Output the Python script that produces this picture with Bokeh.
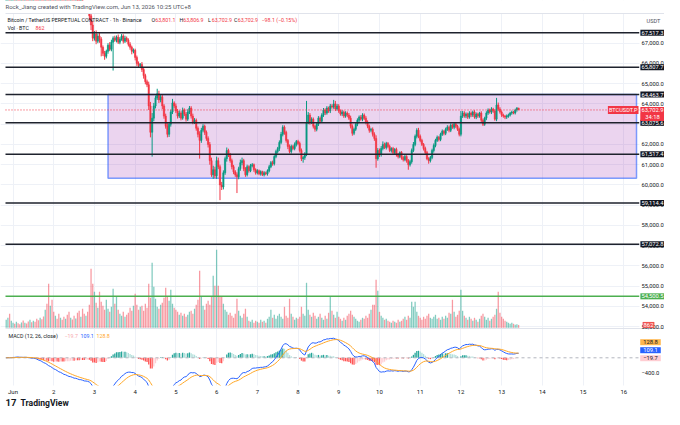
import numpy as np
import pandas as pd
from bokeh.plotting import figure
from bokeh.models import Range1d, FixedTicker, Grid, Label, ColumnDataSource
from bokeh.core.properties import value
from bokeh.embed import file_html
from bokeh.resources import INLINE

# ---------------- data (hourly candles, May 31 20:00 .. Jun 13 10:00, UTC+8) ----------------
first_open = 71900
closes = [
    71950, 72010, 71920, 71980,
    72050, 71990, 72080, 72020, 71940, 72000, 71960, 72030, 71980, 71900, 71950, 71870,
    71920, 71840, 71700, 71560, 71620, 71430, 71280, 71350, 71120, 70950, 71010, 70800,
    70620, 70700, 70480, 70300, 70380, 70150, 69980, 70050, 69820, 69700, 69760, 69520,
    69380, 69450, 69200, 69050, 69120, 68880, 68700, 68760, 68600, 68350, 67900, 67250,
    67450, 67100, 67350, 67200, 66800, 66500, 66350, 66600, 66900, 66700, 67050, 67250,
    67150, 67300, 67050, 67200, 67350, 67100, 67250, 67150, 66950, 66800, 66600, 66650,
    66300, 66000, 65900, 65950, 65700, 65400, 65100, 64950, 63900, 62600, 63300, 63900,
    64300, 64500, 64200, 64350, 63900, 63400, 62900, 62500, 63000, 63600, 64050, 63900,
    63650, 63400, 63550, 63300, 63700, 63500, 63250, 63600, 63800, 63400, 63100, 63200,
    62800, 62500, 62200, 62700, 62900, 62600, 62300, 62000, 61200, 60500, 60750, 60450,
    61200, 60900, 60000, 59900, 60600, 61300, 61700, 61500, 61200, 60900, 60650, 60500,
    60400, 60800, 61100, 61200, 60800, 60500, 60900, 60700, 60950, 61000, 60750, 60600,
    60700, 60550, 60650, 60500, 60600, 60550, 60700, 60900, 61100, 61050, 61400, 61650,
    61800, 62100, 62500, 62850, 62600, 62200, 61900, 61650, 61900, 61800, 62000, 62150,
    62050, 61700, 61300, 61350, 61500, 63100, 63450, 63100, 63250, 62900, 62750, 63000,
    63300, 63150, 63450, 63700, 63550, 63800, 63650, 63900, 63850, 64000, 63750, 63900,
    63650, 63500, 63600, 63400, 63550, 63450, 63300, 62900, 62550, 62750, 63000, 63200,
    63350, 63250, 63450, 63300, 63100, 62900, 62700, 62750, 62500, 62300, 61300, 61700,
    61500, 61800, 62000, 61850, 62050, 61900, 61700, 61800, 61600, 61750, 61500, 61400,
    61600, 61350, 61250, 61400, 61200, 61000, 61150, 61700, 62000, 62400, 62700, 62400,
    62200, 62000, 61800, 61600, 61300, 61200, 61350, 61700, 61950, 62200, 62350, 62250,
    62500, 62650, 62550, 62750, 62850, 62700, 62950, 62850, 63000, 62900, 62750, 62500,
    63400, 63550, 63400, 63500, 63350, 63550, 63450, 63600, 63350, 63500, 63400, 63550,
    63200, 63000, 63300, 63550, 63700, 63600, 63750, 63650, 63250, 63950, 63750, 63600,
    63450, 63400, 63350, 63400, 63450, 63550, 63600, 63550, 63700, 63801.1, 63702.9,
]
upper_wicks = [
    60, 80, 50, 70,
    60, 40, 70, 50, 80, 60, 50, 70, 40, 60, 80, 50, 60, 70, 90, 60, 120, 80, 100, 70, 150, 90, 110, 80,
    90, 120, 80, 100, 70, 110, 90, 80, 120, 70, 100, 80, 90, 110, 70, 100, 80, 120, 90, 110, 150, 350, 120, 200,
    150, 180, 120, 150, 100, 90, 120, 80, 100, 150, 120, 90, 120, 80, 130, 100, 100, 90, 120, 80, 90, 100, 80, 90,
    80, 90, 100, 70, 120, 80, 90, 100, 150, 200, 250, 150, 120, 250, 150, 120, 100, 90, 120, 150, 100, 120, 200, 80,
    120, 100, 130, 90, 120, 80, 100, 140, 100, 90, 120, 100, 80, 90, 150, 120, 100, 80, 90, 100, 120, 150, 200, 150,
    200, 150, 100, 150, 120, 100, 150, 90, 80, 100, 90, 80, 120, 100, 150, 150, 90, 80, 100, 70, 90, 80, 60, 70,
    80, 60, 70, 50, 80, 60, 70, 90, 80, 100, 70, 90, 80, 100, 120, 100, 90, 80, 70, 100, 90, 80, 100, 70,
    80, 90, 100, 80, 120, 1050, 150, 100, 90, 80, 70, 90, 100, 80, 90, 100, 80, 90, 70, 100, 90, 200, 150, 100,
    90, 80, 100, 70, 90, 80, 100, 120, 90, 80, 70, 90, 80, 100, 90, 80, 100, 90, 80, 70, 90, 100, 150, 120,
    100, 120, 150, 90, 80, 70, 90, 60, 80, 70, 90, 80, 60, 70, 80, 90, 70, 80, 90, 100, 120, 90, 100, 120,
    90, 80, 70, 90, 80, 70, 80, 90, 100, 80, 90, 70, 80, 90, 70, 80, 100, 80, 90, 70, 80, 90, 70, 80,
    250, 100, 90, 80, 70, 90, 80, 70, 90, 80, 70, 60, 90, 80, 70, 90, 80, 70, 90, 60, 80, 350, 120, 90,
    80, 70, 60, 80, 70, 60, 70, 50, 60, 40, 5.8,
]
lower_wicks = [
    70, 50, 80, 60,
    50, 70, 40, 60, 80, 50, 70, 40, 60, 80, 50, 70, 60, 90, 50, 80, 70, 100, 120, 90, 110, 150, 100, 130,
    110, 90, 120, 100, 130, 90, 110, 120, 100, 130, 90, 110, 120, 100, 130, 90, 110, 100, 120, 100, 150, 200, 250, 150,
    120, 150, 100, 180, 450, 130, 170, 100, 120, 90, 100, 1400, 80, 110, 90, 100, 80, 120, 90, 100, 110, 120, 150, 100,
    150, 120, 100, 130, 120, 150, 130, 120, 200, 250, 1200, 150, 120, 100, 150, 120, 150, 130, 120, 150, 130, 120, 100, 120,
    100, 120, 90, 110, 80, 100, 120, 90, 100, 120, 100, 90, 120, 150, 900, 120, 100, 130, 120, 150, 200, 100, 200, 120,
    150, 120, 750, 150, 120, 100, 150, 120, 100, 130, 120, 100, 800, 120, 100, 130, 120, 100, 80, 90, 70, 80, 100, 90,
    80, 70, 90, 60, 80, 70, 90, 80, 70, 100, 90, 80, 100, 120, 90, 100, 120, 110, 130, 90, 100, 80, 90, 100,
    90, 100, 120, 200, 110, 80, 100, 120, 90, 110, 120, 100, 90, 100, 80, 90, 100, 80, 90, 100, 80, 90, 100, 80,
    90, 80, 100, 90, 80, 100, 90, 110, 120, 90, 80, 100, 90, 80, 100, 90, 110, 100, 120, 100, 110, 120, 450, 100,
    120, 100, 90, 80, 100, 90, 80, 100, 90, 80, 100, 90, 80, 100, 90, 80, 100, 250, 90, 100, 80, 90, 100, 90,
    90, 80, 100, 90, 80, 150, 90, 80, 100, 90, 80, 100, 90, 80, 100, 90, 80, 100, 90, 80, 100, 90, 80, 100,
    100, 90, 80, 100, 90, 80, 100, 90, 80, 100, 90, 80, 100, 90, 80, 100, 90, 80, 100, 90, 80, 100, 90, 80,
    90, 80, 100, 90, 80, 70, 80, 60, 70, 80, 0,
]
volumes = [
    2400, 3000, 4200, 2100,
    1500, 1200, 1800, 1400, 1100, 1600, 2200, 1500, 1300, 1900, 2400, 1700, 2100, 1800, 2700, 2300, 3000, 2600, 3400, 5400, 7200, 13200, 6600, 8400,
    4800, 3600, 2700, 4200, 3000, 2400, 3300, 2700, 3900, 4800, 3000, 2500, 3600, 2800, 4500, 5100, 3300, 5700, 4200, 3600, 4800, 6900, 17700, 13200,
    10800, 7500, 6000, 10800, 7800, 6600, 5400, 8400, 5700, 4800, 6300, 11700, 7200, 9300, 5400, 4200, 3600, 4800, 3300, 3900, 4500, 6000, 5100, 6600,
    10200, 6900, 5400, 6300, 6600, 5100, 7200, 6000, 13200, 9000, 19500, 12300, 8700, 6300, 5700, 6900, 7500, 9000, 12000, 9300, 8100, 11400, 7200, 6000,
    5400, 4800, 3900, 4500, 3600, 4200, 3300, 3900, 4800, 5100, 4200, 5700, 6900, 8400, 17100, 9300, 6600, 5400, 7200, 8100, 6900, 9300, 15600, 12600,
    23400, 12600, 9300, 9300, 7200, 5400, 4800, 3900, 4500, 3600, 3000, 4200, 8700, 5100, 3600, 3000, 4200, 5700, 3300, 2100, 1800, 2400, 1500, 2100,
    1800, 1500, 2400, 1800, 2100, 1500, 2700, 3300, 5400, 3000, 3900, 2700, 3600, 4200, 3300, 2700, 6300, 3600, 3000, 8700, 4200, 3300, 2400, 3000,
    2700, 3300, 6300, 4200, 3600, 13500, 5400, 3900, 3300, 4500, 3600, 2700, 3300, 4200, 3000, 2400, 3600, 2700, 4500, 9300, 5100, 3900, 3000, 4800,
    3300, 2700, 2100, 3000, 2400, 3600, 4200, 5100, 3900, 3300, 2700, 2100, 1800, 2400, 3000, 2700, 3600, 3000, 4200, 5400, 6900, 6900, 14400, 11100,
    4800, 3600, 3000, 2400, 2700, 2100, 1800, 1500, 2100, 1800, 1500, 2400, 1800, 2100, 2700, 3300, 2400, 3600, 3000, 7800, 6300, 7800, 4800, 3600,
    3000, 2400, 3300, 2700, 3600, 4200, 3000, 2700, 3300, 3900, 2700, 3000, 2400, 3300, 2700, 3600, 3000, 4500, 4200, 8400, 4800, 3300, 3900, 5100,
    11400, 5100, 3600, 3000, 2400, 3300, 2700, 2100, 3000, 2400, 1800, 2700, 3600, 4200, 3300, 2400, 3000, 2100, 2700, 3300, 3900, 5700, 10800, 4500,
    3300, 2700, 2100, 1800, 1500, 1200, 1500, 1200, 900, 1100, 862,
]
day_labels = ["Jun", "2", "3", "4", "5", "6", "7", "8", "9", "10", "11", "12", "13", "14", "15", "16"]
first_day_hour = 4          # hour index of Jun 1 00:00
price_ticks = [53000, 54000, 55000, 56000, 57000, 58000, 59000, 60000,
               61000, 62000, 63000, 64000, 65000, 66000, 67000]
levels = [67517.3, 65807.7, 64463.7, 63075.6, 61517.4, 59114.4, 57072.8]
level_texts = ["67,517.3", "65,807.7", "64,463.7", "63,075.6", "61,517.4", "59,114.4", "57,072.8"]
support_level = 54500.5
support_text = "54,500.5"
zone_top, zone_bottom = 64463.7, 60333.0
zone_start, zone_end = 60, 371.5   # hour indices
last_price = 63702.9
macd_axis_tick = -400

# ---------------- layout constants (pixels of the picture) ----------------
W, H = 664, 409
X_JUN1, PX_PER_HOUR = 12.5, 40.72 / 24
Y_67000, PX_PER_USD = 42.7, 0.02025
VOL_BASE_Y, VOL_PER_PX = 327.3, 300.0
MACD_ZERO_Y, MACD_PER_PX = 357.3, 26.667
PANE_L, PANE_R, PANE_TOP, PANE_SPLIT, PANE_BOT = 5, 639, 13, 328, 385


def hour_at(px):
    return first_day_hour + (px - X_JUN1) / PX_PER_HOUR


def price_at(py):
    return 67000 - (py - Y_67000) / PX_PER_USD


# ---------------- derived series ----------------
n = min(len(closes), len(upper_wicks), len(lower_wicks), len(volumes))
hours = np.arange(n)
c = np.array(closes[:n], dtype=float)
o = np.concatenate([[first_open], c[:-1]])
hi = np.maximum(o, c) + np.array(upper_wicks[:n], dtype=float)
lo = np.minimum(o, c) - np.array(lower_wicks[:n], dtype=float)
UP, DN = "#089981", "#f23645"
col = np.where(c >= o, UP, DN)
src = ColumnDataSource(dict(x=hours, hi=hi, lo=lo, top=np.maximum(o, c), bot=np.minimum(o, c),
                            col=col, vol=np.array(volumes[:n], dtype=float)))

s = pd.Series(c)
macd = s.ewm(span=12, adjust=False).mean() - s.ewm(span=26, adjust=False).mean()
sig = macd.ewm(span=9, adjust=False).mean()
hist = macd - sig
prev = hist.shift(1).fillna(0.0)
hcol = np.where(hist >= 0, np.where(hist >= prev, "#26a69a", "#b2dfdb"),
                np.where(hist <= prev, "#ff5252", "#ffcdd2"))
msrc = ColumnDataSource(dict(x=hours, macd=macd.values, sig=sig.values, hist=hist.values, col=hcol))

day_ticks = [first_day_hour + 24 * k for k in range(len(day_labels))]

# ---------------- figure (frame = whole canvas) ----------------
FONT = "Roboto"
TXT = "#131722"
RED = "#f23645"
p = figure(width=W, height=H, x_range=Range1d(hour_at(0), hour_at(W)),
           y_range=Range1d(price_at(H), price_at(0)),
           x_axis_location=None, y_axis_location=None, output_backend="svg", toolbar_location=None,
           min_border_left=0, min_border_right=0, min_border_top=0, min_border_bottom=0)
p.extra_y_ranges = {
    "vol": Range1d(-(H - VOL_BASE_Y) * VOL_PER_PX, VOL_BASE_Y * VOL_PER_PX),
    "macd": Range1d(-(H - MACD_ZERO_Y) * MACD_PER_PX, MACD_ZERO_Y * MACD_PER_PX),
}
p.outline_line_color = None
p.xgrid.visible = False
p.ygrid.visible = False
p.add_layout(Grid(dimension=0, ticker=FixedTicker(ticks=day_ticks), grid_line_color="#eef1f7"))
p.add_layout(Grid(dimension=1, ticker=FixedTicker(ticks=price_ticks), grid_line_color="#eef1f7"))

xl, xr = hour_at(PANE_L), hour_at(PANE_R)

# zone rectangle
p.quad(left=[zone_start], right=[zone_end], top=[zone_top], bottom=[zone_bottom],
       fill_color="#9c27b0", fill_alpha=0.2, line_color="#2962ff", line_alpha=0.6, line_width=1.5)

# volume
p.vbar(x="x", width=0.75, top="vol", bottom=0, y_range_name="vol", fill_color="col",
       fill_alpha=0.5, line_color=None, source=src)

# MACD
p.vbar(x="x", width=0.75, top="hist", bottom=0, y_range_name="macd", fill_color="col",
       line_color=None, source=msrc)
p.segment(x0=[xl], x1=[xr], y0=[0], y1=[0], y_range_name="macd", line_color="#b2b5be",
          line_dash="3 3", line_width=1)
p.line("x", "macd", y_range_name="macd", line_color="#2962ff", line_width=1, source=msrc)
p.line("x", "sig", y_range_name="macd", line_color="#ffa726", line_width=1, source=msrc)

# candles
p.segment(x0="x", y0="lo", x1="x", y1="hi", line_color="col", line_width=1, source=src)
p.vbar(x="x", width=0.8, top="top", bottom="bot", fill_color="col", line_color="col",
       line_width=0.5, source=src)

# horizontal levels
n_lv = len(levels)
p.segment(x0=[xl] * n_lv, x1=[xr] * n_lv, y0=levels, y1=levels, line_color="#1e222d", line_width=1.5)
p.segment(x0=[xl], x1=[xr], y0=[support_level], y1=[support_level], line_color="#4caf50", line_width=1.5)
p.segment(x0=[xl], x1=[xr], y0=[last_price], y1=[last_price], line_color=RED,
          line_dash="1 2", line_width=1)

# white masks outside the panes (header strip, price scale, time scale)
p.quad(left=[hour_at(0)], right=[hour_at(W)], top=[price_at(0)], bottom=[price_at(PANE_TOP)],
       fill_color="white", line_color=None)
p.quad(left=[hour_at(PANE_R)], right=[hour_at(W)], top=[price_at(0)], bottom=[price_at(H)],
       fill_color="white", line_color=None)
p.quad(left=[hour_at(0)], right=[hour_at(W)], top=[price_at(PANE_BOT)], bottom=[price_at(H)],
       fill_color="white", line_color=None)
# pane borders
p.segment(x0=[xl, xl], x1=[hour_at(W)] * 2, y0=[price_at(PANE_TOP), price_at(PANE_SPLIT)],
          y1=[price_at(PANE_TOP), price_at(PANE_SPLIT)], line_color="#e0e3eb", line_width=1)

# price scale tick labels and time scale labels
tick_x = hour_at(641)
p.text(x=[tick_x] * len(price_ticks), y=price_ticks, text=[f"{t:,.1f}" for t in price_ticks],
       text_font=value(FONT), text_font_size=value("5.8px"), text_color=TXT,
       text_align="left", text_baseline="middle")
p.text(x=[tick_x], y=[macd_axis_tick], y_range_name="macd", text=["−400.0"],
       text_font=value(FONT), text_font_size=value("5.8px"), text_color=TXT,
       text_align="left", text_baseline="middle")
p.text(x=day_ticks, y=[price_at(391)] * len(day_ticks), text=day_labels,
       text_font=value(FONT), text_font_size=value("6px"), text_color=TXT,
       text_align="center", text_baseline="middle")

PAD = dict(left=1, right=1, top=1, bottom=1)


def rlab(text, rx, ry, color=TXT, size="5.8px", align="left", **kw):
    """label placed at picture pixel coordinates"""
    return Label(x=rx, y=H - ry, x_units="screen", y_units="screen", text=text,
                 text_color=color, text_font=FONT, text_font_size=size, text_align=align,
                 text_baseline="middle", **kw)


def tag(text, y, bg, color="white", y_range_name="default", cx=652, size="5.8px", pad=PAD):
    return Label(x=cx, x_units="screen", y=y, y_range_name=y_range_name, text=text,
                 text_align="center", text_baseline="middle", text_color=color, text_font=FONT,
                 text_font_size=size, background_fill_color=bg, padding=pad)


# header texts
p.add_layout(rlab("Rock_Jiang created with TradingView.com, Jun 13, 2026 10:25 UTC+8", 5, 5.5,
                  color="#50535e", size="6px"))
LEG = "5.3px"
p.add_layout(rlab("Bitcoin / TetherUS PERPETUAL CONTRACT · 1h · Binance", 7, 19.5, size=LEG))
for letter, lx, val in [("O", 151, "63,801.1"), ("H", 179, "63,806.9"),
                        ("L", 207.5, "63,702.9"), ("C", 233.5, "63,702.9")]:
    p.add_layout(rlab(letter, lx, 19.5, size=LEG))
    p.add_layout(rlab(val, lx + 3.8, 19.5, color=RED, size=LEG))
p.add_layout(rlab("−98.1 (−0.15%)", 261, 19.5, color=RED, size=LEG))
p.add_layout(rlab("Vol · BTC", 7, 27, size=LEG))
p.add_layout(rlab("862", 35, 27, color=RED, size=LEG))

p.add_layout(rlab("MACD (12, 26, close)", 8, 335, size=LEG))
p.add_layout(rlab("−19.7", 64, 335, color="#f7a8ae", size=LEG))
p.add_layout(rlab("109.1", 80, 335, color="#2962ff", size=LEG))
p.add_layout(rlab("128.8", 96, 335, color="#ffa726", size=LEG))

# price-scale tags
p.add_layout(rlab("USDT", 646, 20, color="#50535e", size="5.6px"))
for lv, t in zip(levels, level_texts):
    p.add_layout(tag(t, lv, "#131722"))
p.add_layout(tag(support_text, support_level, "#4caf50"))
p.add_layout(tag("63,702.9", last_price, RED))
p.add_layout(rlab("34:18", 652, 116.5, color="white", align="center",
                  background_fill_color=RED, padding=dict(left=5, right=5, top=1, bottom=1)))
p.add_layout(Label(x=PANE_R - 1, x_units="screen", y=last_price, text="BTCUSDT.P", text_align="right",
                   text_baseline="middle", text_color="white", text_font=FONT,
                   text_font_size="5.6px", background_fill_color=RED, padding=PAD))
p.add_layout(tag("862", 862, "#ef5350", y_range_name="vol", cx=648))
p.add_layout(rlab("128.8", 650, 341.7, color=TXT, align="center",
                  background_fill_color="#ffb74d", padding=dict(left=3, right=3, top=1, bottom=1)))
p.add_layout(rlab("109.1", 650, 349.7, color="white", align="center",
                  background_fill_color="#2962ff", padding=dict(left=3, right=3, top=1, bottom=1)))
p.add_layout(rlab("−19.7", 650, 357.7, color=TXT, align="center",
                  background_fill_color="#ffcdd2", padding=dict(left=3, right=3, top=1, bottom=1)))

# logo
p.add_layout(rlab("17", 5, 402, size="9.5px", text_font_style="bold"))
p.add_layout(rlab("TradingView", 20, 402, size="8.6px", text_font_style="bold"))

open("out.html", "w").write(file_html(p, INLINE))
